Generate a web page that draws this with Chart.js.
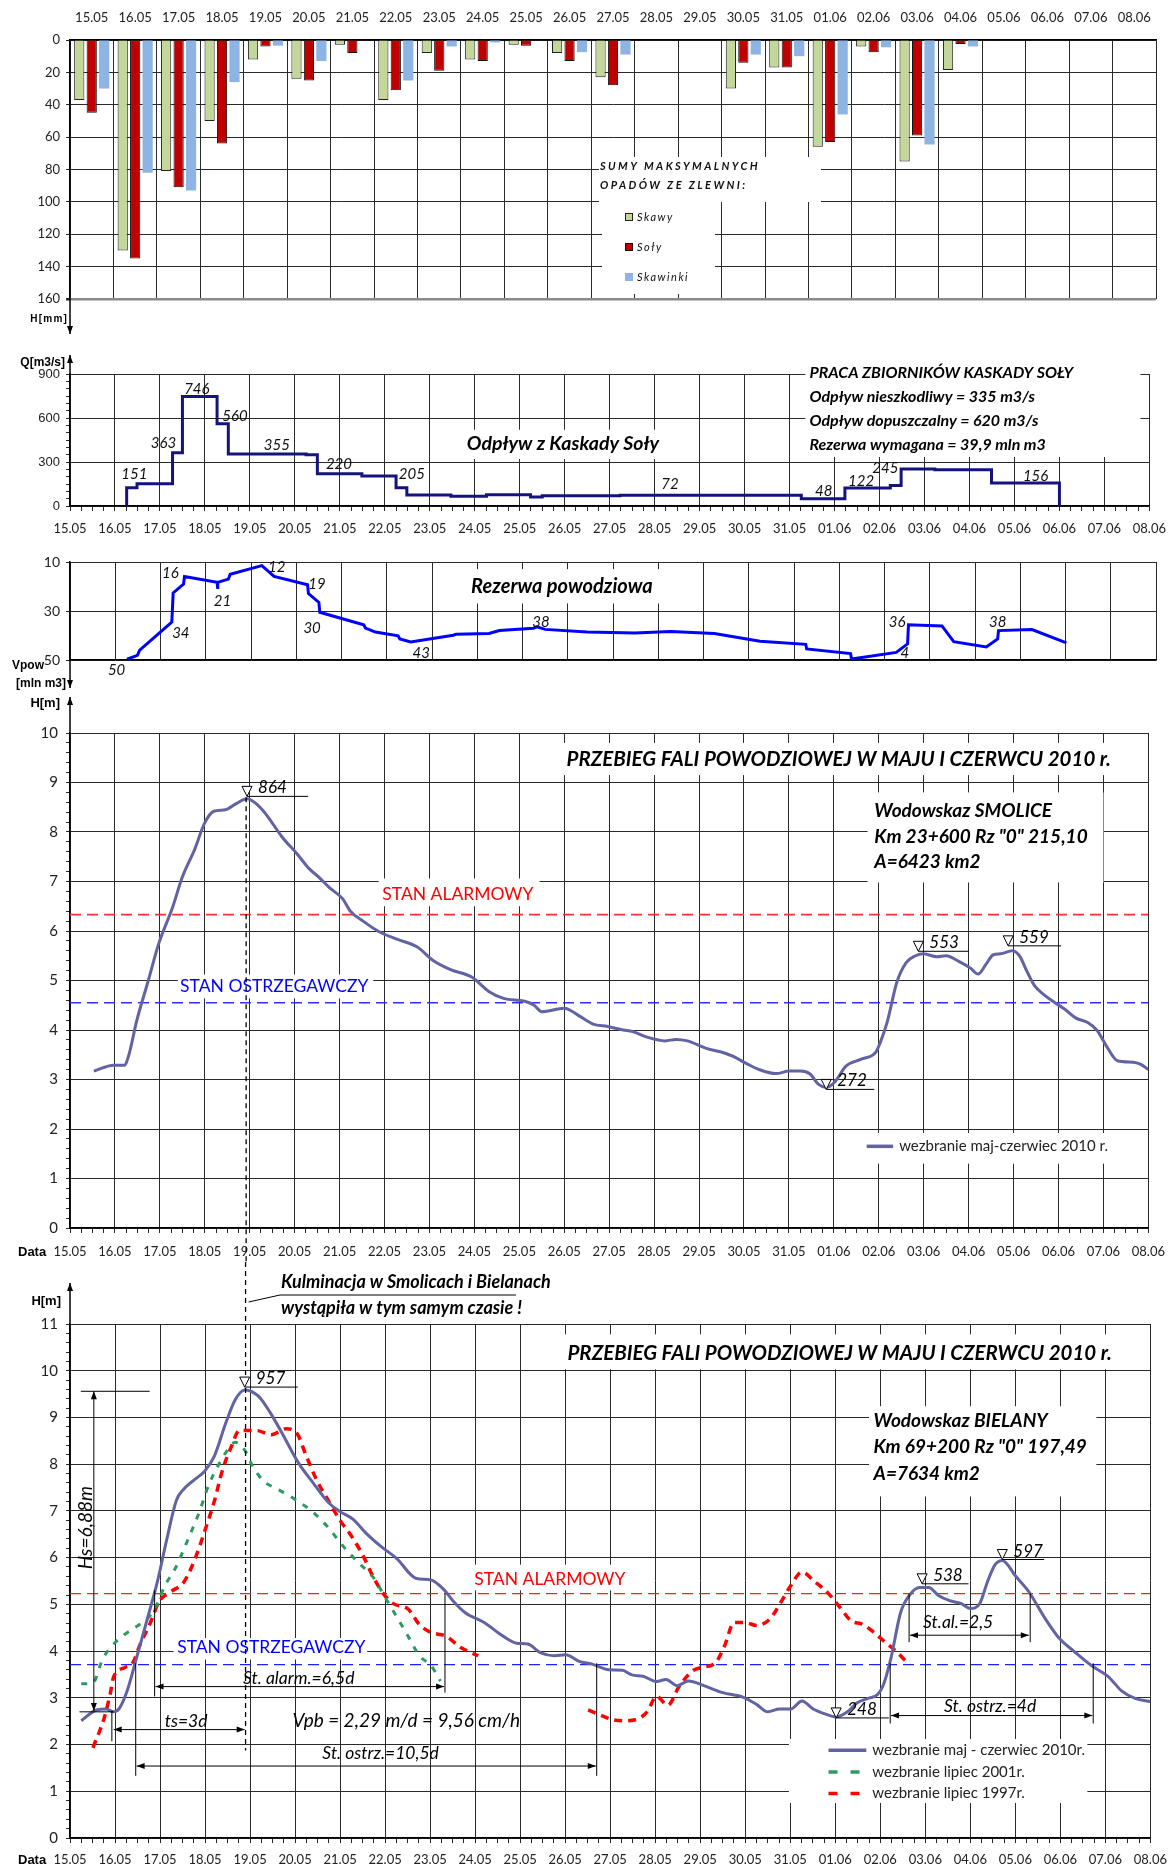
<!DOCTYPE html>
<html>
<head>
<meta charset="utf-8">
<script src="https://cdn.jsdelivr.net/npm/chart.js@4.4.1/dist/chart.umd.min.js"></script>
<style>
  html, body { margin: 0; padding: 0; background: #fff; }
  body { width: 1176px; height: 1869px; position: relative; overflow: hidden; }
  canvas { position: absolute; left: 0; }
</style>
</head>
<body>
<canvas id="rainChart" width="1176" height="335" style="top:0px"></canvas>
<canvas id="flowChart" width="1176" height="210" style="top:335px"></canvas>
<canvas id="reserveChart" width="1176" height="147" style="top:545px"></canvas>
<canvas id="smoliceChart" width="1176" height="570" style="top:692px"></canvas>
<canvas id="bielanyChart" width="1176" height="607" style="top:1262px"></canvas>
<script>
// Data
const days = ['15.05','16.05','17.05','18.05','19.05','20.05','21.05','22.05','23.05','24.05','25.05','26.05','27.05',
              '28.05','29.05','30.05','31.05','01.06','02.06','03.06','04.06','05.06','06.06','07.06','08.06'];

// daily rainfall sums [mm]
const rainSkawa    = [37, 130, 81, 50, 12, 24, 3, 37, 8, 12, 3, 8, 23, 0, 0, 30, 17, 66, 4, 75, 18.5, 0, 0, 0, 0];
const rainSola     = [45, 135, 91, 64, 4, 25, 8, 31, 19, 13, 3.5, 13, 28, 0, 0, 14, 17, 63, 7.5, 59, 2.5, 0, 0, 0, 0];
const rainSkawinka = [30, 82, 93, 26, 3.5, 13, 0, 25, 4, 1.5, 0, 7.5, 9, 0, 0, 9, 10, 46, 4.5, 64.5, 4, 0, 0, 0, 0];

// outflow from Sola cascade [m3/s], day offset from 15.05 where the step starts
const flowDay = [1.26, 1.26, 1.49, 2.28, 2.50, 3.27, 3.52, 5.25, 5.50, 6.49, 7.25, 7.49, 8.47, 9.26, 10.24, 10.50,
                 12.23, 16.26, 17.23, 18.24, 18.48, 19.23, 20.49, 22.00];
const flowQ   = [0, 124, 151, 363, 746, 560, 355, 350, 220, 205, 124, 75, 67, 76, 62, 70,
                 74, 50, 122, 139, 252, 248, 156, 0];
const flowNotes = [[1.43, 215, '151'], [2.08, 430, '363'], [2.82, 800, '746'], [3.67, 610, '560'], [4.6, 415, '355'],
                   [5.98, 285, '220'], [7.6, 215, '205'], [13.34, 150, '72'], [16.76, 99, '48'], [17.59, 168, '122'],
                   [18.13, 255, '245'], [21.47, 206, '156']];

// flood reserve [mln m3]
const resDay = [1.26, 1.49, 1.54, 2.25, 2.28, 2.51, 2.53, 3.25, 3.26, 3.27, 3.50, 3.54, 4.24, 4.51, 5.25, 5.27, 5.50, 5.52,
                6.49, 6.53, 6.75, 7.25, 7.29, 7.53, 8.47, 8.53, 9.26, 9.49, 10.24, 10.32, 10.50, 11.43, 12.48, 13.28,
                14.24, 15.25, 16.26, 16.28, 17.25, 17.27, 18.26, 18.51, 18.53, 19.27, 19.53, 20.25, 20.50, 20.52, 21.26, 22.02];
const resVol = [49.7, 48.1, 46, 34.5, 22.6, 19, 15.9, 18.3, 21, 18.3, 17, 15, 11.5, 15.9, 19.3, 22.9, 26.5, 30.5,
                35.6, 37, 38.6, 40.1, 41.4, 42.6, 39.9, 39.5, 39.2, 38, 37, 36.5, 37.5, 38.6, 39, 38.4,
                39.2, 42.3, 43.6, 45.5, 47.4, 49.6, 46.9, 43.4, 35.6, 36.1, 42.5, 44.7, 41.4, 38, 37.6, 43];
const resNotes = [[2.22, 14.5, '16'], [2.45, 39, '34'], [3.37, 25.8, '21'], [4.57, 12, '12'], [5.46, 19, '19'],
                  [5.35, 36.9, '30'], [7.76, 47.2, '43'], [10.41, 34.6, '38'], [1.03, 54.2, '50'], [18.28, 34.6, '36'],
                  [18.45, 47.3, '4'], [20.5, 34.6, '38']];

// water level SMOLICE [m]
const smolDay = [0.53, 0.97, 1.21, 1.32, 1.48, 1.73, 1.98, 2.28, 2.50, 2.78,
                 2.99, 3.20, 3.46, 3.71, 3.94, 4.26, 4.51, 4.72, 5.06, 5.31,
                 5.56, 5.78, 6.07, 6.24, 6.54, 6.87, 7.29, 7.72, 8.09, 8.47,
                 8.94, 9.32, 9.65, 10.12, 10.33, 10.50, 11.00, 11.34, 11.64, 11.97,
                 12.31, 12.52, 12.86, 13.24, 13.49, 13.74, 14.16, 14.58, 14.75, 15.08,
                 15.34, 15.71, 16.01, 16.26, 16.47, 16.66, 16.83, 17.02, 17.27, 17.61,
                 17.94, 18.03, 18.19, 18.40, 18.61, 18.82, 18.99, 19.29, 19.50, 19.79,
                 20.04, 20.21, 20.38, 20.55, 20.71, 20.97, 21.13, 21.30, 21.47, 21.68,
                 21.89, 22.14, 22.39, 22.65, 22.86, 23.07, 23.31, 23.66, 23.82, 24.00];
const smolH = [3.17, 3.29, 3.29, 3.53, 4.17, 4.96, 5.76, 6.47, 7.09, 7.66,
               8.17, 8.42, 8.45, 8.58, 8.67, 8.47, 8.17, 7.90, 7.55, 7.27,
               7.07, 6.87, 6.65, 6.40, 6.19, 5.99, 5.83, 5.68, 5.40, 5.22,
               5.07, 4.78, 4.64, 4.58, 4.50, 4.37, 4.44, 4.28, 4.12, 4.07,
               4.00, 3.97, 3.85, 3.78, 3.81, 3.78, 3.63, 3.53, 3.47, 3.31,
               3.20, 3.12, 3.17, 3.17, 3.11, 2.90, 2.84, 2.95, 3.27, 3.41,
               3.56, 3.74, 4.17, 4.96, 5.36, 5.50, 5.54, 5.48, 5.50, 5.38,
               5.25, 5.13, 5.32, 5.52, 5.54, 5.60, 5.50, 5.18, 4.89, 4.71,
               4.57, 4.42, 4.24, 4.15, 3.99, 3.67, 3.38, 3.35, 3.31, 3.20];
const smolAlarm = 6.33;
const smolWarn = 4.55;
const smolPeaks = [{x: 3.94, y: 8.72, x2: 5.3, text: '864'}, {x: 18.88, y: 5.59, x2: 20.0, text: '553'},
                   {x: 20.88, y: 5.7, x2: 22.06, text: '559'}, {x: 16.83, y: 2.8, x2: 17.9, text: '272'}];

// water level BIELANY [m]
const bielDay = [0.25, 0.59, 0.80, 0.97, 1.10, 1.27, 1.48, 1.73, 1.94, 2.15,
                 2.36, 2.53, 2.78, 2.99, 3.21, 3.46, 3.67, 3.88, 4.18, 4.43,
                 4.73, 5.06, 5.40, 5.74, 5.99, 6.29, 6.58, 6.92, 7.26, 7.68,
                 8.02, 8.31, 8.52, 8.78, 9.20, 9.62, 9.92, 10.17, 10.46, 10.76,
                 11.01, 11.31, 11.60, 11.97, 12.27, 12.48, 12.73, 13.03, 13.24, 13.49,
                 13.74, 14.08, 14.50, 14.96, 15.25, 15.50, 15.76, 16.01, 16.26, 16.51,
                 16.76, 17.02, 17.27, 17.48, 17.73, 17.94, 18.07, 18.24, 18.45, 18.66,
                 18.87, 19.08, 19.29, 19.54, 19.79, 20.00, 20.21, 20.38, 20.55, 20.71,
                 21.01, 21.30, 21.64, 21.97, 22.31, 22.69, 23.07, 23.36, 23.66, 24.00];
const bielH = [2.51, 2.74, 2.76, 2.70, 2.78, 3.15, 3.86, 4.73, 5.48, 6.39,
               7.22, 7.47, 7.68, 7.85, 8.18, 8.88, 9.38, 9.59, 9.46, 9.13,
               8.63, 8.05, 7.60, 7.18, 6.99, 6.82, 6.52, 6.23, 5.98, 5.56,
               5.52, 5.31, 5.06, 4.82, 4.61, 4.32, 4.17, 4.15, 3.96, 3.90,
               3.92, 3.78, 3.72, 3.60, 3.59, 3.49, 3.46, 3.35, 3.39, 3.26,
               3.36, 3.26, 3.11, 3.01, 2.86, 2.70, 2.76, 2.76, 2.93, 2.76,
               2.66, 2.59, 2.70, 2.89, 2.99, 3.07, 3.28, 3.86, 4.82, 5.21,
               5.36, 5.36, 5.19, 5.08, 5.02, 4.91, 5.02, 5.48, 5.85, 5.94,
               5.60, 5.27, 4.73, 4.28, 3.99, 3.69, 3.45, 3.15, 2.99, 2.92];
// flood of July 2001
const day2001 = [0.25, 0.51, 0.72, 0.93, 1.22, 1.60, 1.86, 2.11, 2.36, 2.62, 2.87, 3.08, 3.29, 3.50, 3.67, 3.88,
                 4.05, 4.30, 4.60, 4.98, 5.40, 5.74, 6.08, 6.41, 6.75, 7.00, 7.26, 7.51, 7.76, 8.02, 8.23];
const h2001   = [3.30, 3.32, 3.82, 4.11, 4.36, 4.61, 4.86, 5.40, 5.81, 6.39, 6.97, 7.55, 7.97, 8.30, 8.47, 8.30,
                 7.97, 7.64, 7.47, 7.26, 6.97, 6.64, 6.23, 5.89, 5.56, 5.15, 4.73, 4.32, 3.90, 3.69, 3.36];
// flood of July 1997 (null = break in the record)
const day1997 = [0.51, 0.76, 0.89, 0.97, 1.22, 1.39, 1.56, 1.77, 1.98, 2.24, 2.53, 2.78, 2.99, 3.21, 3.38, 3.59, 3.76,
                 4.14, 4.47, 4.81, 5.06, 5.23, 5.49, 5.74, 5.99, 6.24, 6.50, 6.75, 6.96, 7.17, 7.51, 7.76, 8.02, 8.35,
                 8.69, 9.07, 10.30,
                 11.51, 11.81, 12.06, 12.31, 12.56, 12.82, 13.03, 13.28, 13.53, 13.82, 14.03, 14.33, 14.54, 14.75,
                 15.00, 15.25, 15.55, 15.80, 16.01, 16.26, 16.55, 16.85, 17.10, 17.35, 17.61, 17.86, 18.11, 18.36, 18.61];
const h1997   = [1.93, 2.57, 3.07, 3.45, 3.65, 3.74, 4.15, 4.57, 5.06, 5.27, 5.48, 5.98, 6.56, 7.22, 7.85, 8.39, 8.72,
                 8.72, 8.63, 8.76, 8.63, 8.22, 7.64, 7.22, 6.81, 6.48, 6.06, 5.56, 5.23, 5.02, 4.90, 4.57, 4.40, 4.32,
                 4.07, 3.90, null,
                 2.74, 2.62, 2.53, 2.51, 2.53, 2.70, 3.03, 2.84, 3.24, 3.57, 3.65, 3.74, 4.11, 4.61,
                 4.61, 4.55, 4.69, 5.06, 5.40, 5.69, 5.48, 5.23, 4.94, 4.65, 4.57, 4.40, 4.19, 3.99, 3.74];
const bielAlarm = 5.23;
const bielWarn = 3.71;
const bielPeaks = [{x: 3.88, y: 9.65, x2: 5.06, text: '957'}, {x: 18.93, y: 5.44, x2: 19.96, text: '538'},
                   {x: 20.71, y: 5.96, x2: 21.64, text: '597'}, {x: 17.02, y: 2.57, x2: 18.19, text: '248'}];

const F = 'Lato, "Open Sans", sans-serif';
const A = '"Liberation Sans", Arial, sans-serif';
const GRID = '#2a2a2a';
const C2010 = '#6163A3';
const TITLE = 'PRZEBIEG FALI POWODZIOWEJ W MAJU I CZERWCU 2010 r.';

Chart.defaults.font.family = F;
Chart.defaults.color = '#222';

const pts = (xs, ys) => xs.map((x, i) => ({x: x, y: ys[i]}));
const isWhole = v => Math.abs(v - Math.round(v)) < 1e-6;
const dayTick = v => isWhole(v) ? days[Math.round(v)] : '';

// Drawing helpers
function px(c, x, y) {
    return [c.scales.x.getPixelForValue(x), c.scales.y.getPixelForValue(y)];
}

function write(ctx, s, x, y, font, color, align, base, spacing) {
    ctx.save();
    ctx.font = font;
    ctx.fillStyle = color || '#000';
    ctx.textAlign = align || 'left';
    ctx.textBaseline = base || 'middle';
    if (spacing) ctx.letterSpacing = spacing;
    ctx.fillText(s, x, y);
    ctx.restore();
}

function put(c, s, x, y, font, color, align) {
    const [X, Y] = px(c, x, y);
    write(c.ctx, s, X, Y, font, color, align);
}

function blank(c, x0, y0, x1, y1) {
    const [a, b] = px(c, x0, y0);
    const [d, e] = px(c, x1, y1);
    c.ctx.save();
    c.ctx.fillStyle = '#fff';
    c.ctx.fillRect(Math.min(a, d), Math.min(b, e), Math.abs(d - a), Math.abs(e - b));
    c.ctx.restore();
}

function line(ctx, x0, y0, x1, y1, w, color, dash) {
    ctx.save();
    ctx.beginPath();
    ctx.strokeStyle = color || '#000';
    ctx.lineWidth = w || 1;
    ctx.setLineDash(dash || []);
    ctx.moveTo(x0, y0);
    ctx.lineTo(x1, y1);
    ctx.stroke();
    ctx.restore();
}

function head(ctx, x, y, ang) {
    ctx.save();
    ctx.translate(x, y);
    ctx.rotate(ang);
    ctx.beginPath();
    ctx.moveTo(0, 0);
    ctx.lineTo(-8, -3);
    ctx.lineTo(-8, 3);
    ctx.closePath();
    ctx.fillStyle = '#000';
    ctx.fill();
    ctx.restore();
}

function dataLine(c, x0, y0, x1, y1, w, color, dash) {
    const [a, b] = px(c, x0, y0);
    const [d, e] = px(c, x1, y1);
    line(c.ctx, a, b, d, e, w, color, dash);
}

function dimH(c, x0, x1, y) {
    const [a, yy] = px(c, x0, y);
    const [b] = px(c, x1, y);
    line(c.ctx, a, yy, b, yy, 1);
    head(c.ctx, a, yy, Math.PI);
    head(c.ctx, b, yy, 0);
}

function peakMark(c, m) {
    const ctx = c.ctx;
    const [x, y] = px(c, m.x, m.y);
    const [x2] = px(c, m.x2, m.y);
    line(ctx, x, y, x2, y, 1);
    ctx.save();
    ctx.beginPath();
    ctx.moveTo(x - 5, y - 10);
    ctx.lineTo(x + 5, y - 10);
    ctx.lineTo(x, y);
    ctx.closePath();
    ctx.fillStyle = '#fff';
    ctx.fill();
    ctx.strokeStyle = '#000';
    ctx.lineWidth = 1;
    ctx.stroke();
    ctx.restore();
    write(ctx, m.text, x + 11, y - 3, 'italic 17px ' + F, '#000', 'left', 'alphabetic');
}

function axisArrow(ctx, x, yFrom, yTo) {
    line(ctx, x, yFrom, x, yTo, 1.5);
    head(ctx, x, yTo, yTo < yFrom ? -Math.PI / 2 : Math.PI / 2);
}

function legendRow(c, xa, xb, y, label, color, dash) {
    const [a, yy] = px(c, xa, y);
    const [b] = px(c, xb, y);
    line(c.ctx, a, yy, b, yy, 3.5, color, dash);
    write(c.ctx, label, b + 6, yy, '15px ' + F, '#222');
}

// Shared axis settings for the day axis of the line panels
function dayAxis(height, pad, showLabels) {
    return {
        type: 'linear', min: 0, max: 24,
        afterFit: s => { s.height = height; },
        ticks: {
            display: showLabels, stepSize: 0.25, autoSkip: false, maxRotation: 0, maxTicksLimit: 1000,
            callback: dayTick, font: {family: F, size: 13}, color: '#222', padding: pad
        },
        grid: {
            color: ctx => isWhole(ctx.tick.value) ? GRID : 'transparent',
            tickColor: GRID, tickLength: 5, drawTicks: showLabels
        },
        border: {color: '#000', width: 1.5}
    };
}

function levelAxis(max, font) {
    return {
        min: 0, max: max,
        afterFit: s => { s.width = 70; },
        ticks: {
            stepSize: 0.2, autoSkip: false, maxTicksLimit: 1000,
            callback: v => isWhole(v) ? Math.round(v) : '',
            font: {family: F, size: font}, color: '#222', padding: 8
        },
        grid: { color: ctx => isWhole(ctx.tick.value) ? GRID : 'transparent', tickColor: GRID, tickLength: 4 },
        border: {color: '#000', width: 1.5}
    };
}

const baseOpts = {
    responsive: false, animation: false, events: [],
    plugins: { legend: {display: false}, tooltip: {enabled: false} },
    elements: { point: {radius: 0} }
};

// Rainfall chart
function renderRain() {
    const deco = {
        id: 'rainDeco',
        afterDatasetsDraw(c) {
            const ctx = c.ctx;
            ctx.save();
            ctx.fillStyle = '#fff';
            ctx.fillRect(599, 157, 222, 45);
            ctx.fillRect(602, 202, 113, 92);
            ctx.restore();
            const tf = 'italic bold 11px ' + F;
            write(ctx, 'SUMY MAKSYMALNYCH', 600, 166, tf, '#111', 'left', 'middle', '2.4px');
            write(ctx, 'OPADÓW ZE ZLEWNI:', 600, 185, tf, '#111', 'left', 'middle', '2.4px');
            const names = ['Skawy', 'Soły', 'Skawinki'];
            c.data.datasets.forEach((ds, i) => {
                const y = 217 + i * 30;
                ctx.save();
                ctx.fillStyle = ds.backgroundColor;
                ctx.fillRect(625, y - 4, 8, 8);
                if (ds.borderWidth) {
                    ctx.strokeStyle = ds.borderColor;
                    ctx.lineWidth = 1;
                    ctx.strokeRect(625.5, y - 3.5, 7, 7);
                }
                ctx.restore();
                write(ctx, names[i], 637, y, 'italic 11px ' + F, '#111', 'left', 'middle', '1.5px');
            });
        },
        afterDraw(c) {
            const ctx = c.ctx;
            const x = c.chartArea.left;
            axisArrow(ctx, x, c.chartArea.bottom, 334);
            write(ctx, 'H[mm]', x - 2, 319, 'bold 10px ' + A, '#000', 'right', 'middle', '1.2px');
        }
    };

    new Chart(document.getElementById('rainChart'), {
        type: 'bar',
        data: {
            labels: days,
            datasets: [
                { data: rainSkawa, backgroundColor: '#C4D79B', borderColor: '#222', borderWidth: 1 },
                { data: rainSola, backgroundColor: '#C00000', borderColor: '#111', borderWidth: 1 },
                { data: rainSkawinka, backgroundColor: '#8DB4E2', borderWidth: 0 }
            ]
        },
        options: {
            ...baseOpts,
            layout: { padding: {left: 0, right: 20, top: 0, bottom: 36} },
            datasets: { bar: { categoryPercentage: 0.86, barPercentage: 0.82 } },
            scales: {
                x: {
                    position: 'top',
                    afterFit: s => { s.height = 40; },
                    ticks: { autoSkip: false, maxRotation: 0, font: {family: F, size: 13}, color: '#222', padding: 14 },
                    grid: { color: GRID, drawTicks: false, offset: true },
                    border: {color: '#000', width: 1.5}
                },
                y: {
                    reverse: true, min: 0, max: 160,
                    afterFit: s => { s.width = 70; },
                    ticks: { stepSize: 20, font: {family: F, size: 13}, color: '#222', padding: 6 },
                    grid: {
                        color: ctx => ctx.tick.value === 160 ? '#8a8a8a' : GRID,
                        lineWidth: ctx => ctx.tick.value === 160 ? 2.5 : 1,
                        tickColor: GRID, tickLength: 4
                    },
                    border: {color: '#000', width: 1.5}
                }
            }
        },
        plugins: [deco]
    });
}

// Outflow chart
function renderFlow() {
    const deco = {
        id: 'flowDeco',
        beforeDatasetsDraw(c) {
            blank(c, 8.75, 520, 13.16, 320);
            blank(c, 16.35, 985, 23.8, 334);
            put(c, 'Odpływ z Kaskady Soły', 10.96, 423, 'italic bold 19.5px ' + F, '#000', 'center');
            const bf = 'italic bold 16px ' + F;
            put(c, 'PRACA ZBIORNIKÓW KASKADY SOŁY', 16.44, 907, bf);
            put(c, 'Odpływ nieszkodliwy = 335 m3/s', 16.44, 743, bf);
            put(c, 'Odpływ dopuszczalny = 620 m3/s', 16.44, 580, bf);
            put(c, 'Rezerwa wymagana = 39,9 mln m3', 16.44, 416, bf);
        },
        afterDatasetsDraw(c) {
            flowNotes.forEach(n => put(c, n[2], n[0], n[1], 'italic 15px ' + F, '#111', 'center'));
        },
        afterDraw(c) {
            const x = c.chartArea.left;
            axisArrow(c.ctx, x, c.chartArea.top, 20);
            write(c.ctx, 'Q[m3/s]', x - 5, 28, 'bold 12px ' + A, '#000', 'right');
        }
    };

    new Chart(document.getElementById('flowChart'), {
        type: 'line',
        data: {
            datasets: [{
                data: pts(flowDay, flowQ), borderColor: '#14147C', borderWidth: 3, stepped: 'before', fill: false
            }]
        },
        options: {
            ...baseOpts,
            layout: { padding: {left: 0, right: 20, top: 39, bottom: 0} },
            scales: {
                x: dayAxis(39, 10, true),
                y: {
                    min: 0, max: 900,
                    afterFit: s => { s.width = 70; },
                    ticks: {
                        stepSize: 50, autoSkip: false, maxTicksLimit: 1000,
                        callback: v => v % 300 === 0 ? v : '',
                        font: {family: A, size: 13}, color: '#222', padding: 6
                    },
                    grid: { color: ctx => ctx.tick.value % 300 === 0 ? GRID : 'transparent', tickColor: GRID, tickLength: 4 },
                    border: {color: '#000', width: 1.5}
                }
            }
        },
        plugins: [deco]
    });
}

// Flood reserve chart
function renderReserve() {
    const deco = {
        id: 'reserveDeco',
        beforeDatasetsDraw(c) {
            blank(c, 8.6, 12.9, 13.2, 26.9);
            put(c, 'Rezerwa powodziowa', 10.87, 20.2, 'italic bold 20px ' + F, '#000', 'center');
        },
        afterDatasetsDraw(c) {
            resNotes.forEach(n => put(c, n[2], n[0], n[1], 'italic 15px ' + F, '#111', 'center'));
        },
        afterDraw(c) {
            const x = c.chartArea.left;
            axisArrow(c.ctx, x, c.chartArea.bottom, 143);
            write(c.ctx, 'Vpow', 44, 121, 'bold 12px ' + A, '#000', 'right');
            write(c.ctx, '[mln m3]', 66, 139, 'bold 12px ' + A, '#000', 'right');
        }
    };

    new Chart(document.getElementById('reserveChart'), {
        type: 'line',
        data: {
            datasets: [{ data: pts(resDay, resVol), borderColor: '#0000FF', borderWidth: 3, fill: false }]
        },
        options: {
            ...baseOpts,
            layout: { padding: {left: 0, right: 20, top: 17, bottom: 0} },
            scales: {
                x: dayAxis(32, 0, false),
                y: {
                    reverse: true, min: 10, max: 50,
                    afterFit: s => { s.width = 70; },
                    ticks: { stepSize: 20, font: {family: F, size: 14}, color: '#222', padding: 6 },
                    grid: { color: GRID, tickColor: GRID, tickLength: 4 },
                    border: {color: '#000', width: 1.5}
                }
            }
        },
        plugins: [deco]
    });
}

// Smolice water level chart
function renderSmolice() {
    const deco = {
        id: 'smoliceDeco',
        beforeDatasetsDraw(c) {
            blank(c, 10.95, 9.8, 23.2, 9.15);
            blank(c, 17.75, 8.8, 23.0, 6.98);
            blank(c, 6.87, 7.06, 10.45, 6.5);
            blank(c, 2.4, 5.12, 6.75, 4.64);
            blank(c, 17.6, 1.92, 23.5, 1.3);
            put(c, TITLE, 11.05, 9.46, 'italic bold 20.5px ' + F);
            const bf = 'italic bold 19px ' + F;
            put(c, 'Wodowskaz SMOLICE', 17.9, 8.43, bf);
            put(c, 'Km 23+600 Rz "0" 215,10', 17.9, 7.91, bf);
            put(c, 'A=6423 km2', 17.9, 7.39, bf);
            put(c, 'STAN ALARMOWY', 6.95, 6.75, '17.5px ' + F, '#FF0000');
            put(c, 'STAN OSTRZEGAWCZY', 2.45, 4.88, '17.5px ' + F, '#0000FF');
            legendRow(c, 17.73, 18.32, 1.65, 'wezbranie maj-czerwiec 2010 r.', C2010);
        },
        afterDatasetsDraw(c) {
            const [x, y] = px(c, 3.92, 8.7);
            line(c.ctx, x, y, x, c.height, 1.3, '#000', [5, 4]);
            smolPeaks.forEach(m => peakMark(c, m));
        },
        afterDraw(c) {
            const x = c.chartArea.left;
            axisArrow(c.ctx, x, c.chartArea.top, 5);
            write(c.ctx, 'H[m]', 60, 11, 'bold 13px ' + A, '#000', 'right');
            write(c.ctx, 'Data', 18, c.chartArea.bottom + 24, 'bold 13px ' + A, '#000', 'left');
        }
    };

    new Chart(document.getElementById('smoliceChart'), {
        type: 'line',
        data: {
            datasets: [
                { data: pts(smolDay, smolH), borderColor: C2010, borderWidth: 3, cubicInterpolationMode: 'monotone' },
                { data: [{x: 0, y: smolAlarm}, {x: 24, y: smolAlarm}], borderColor: '#FF3030', borderWidth: 1.6, borderDash: [11, 6] },
                { data: [{x: 0, y: smolWarn}, {x: 24, y: smolWarn}], borderColor: '#3030FF', borderWidth: 1.6, borderDash: [11, 6] }
            ]
        },
        options: {
            ...baseOpts,
            layout: { padding: {left: 0, right: 20, top: 41, bottom: 0} },
            scales: { x: dayAxis(34, 11, true), y: levelAxis(10, 15) }
        },
        plugins: [deco]
    });
}

// Bielany water level chart
function renderBielany() {
    const deco = {
        id: 'bielanyDeco',
        beforeDatasetsDraw(c) {
            blank(c, 10.95, 10.78, 23.2, 10.03);
            blank(c, 17.75, 9.24, 22.8, 7.31);
            blank(c, 8.9, 5.85, 12.5, 5.3);
            blank(c, 2.3, 4.28, 6.6, 3.82);
            blank(c, 15.97, 2.12, 22.6, 0.75);
            put(c, TITLE, 11.05, 10.38, 'italic bold 20.5px ' + F);
            const bf = 'italic bold 19px ' + F;
            put(c, 'Wodowskaz BIELANY', 17.85, 8.92, bf);
            put(c, 'Km 69+200 Rz "0" 197,49', 17.85, 8.36, bf);
            put(c, 'A=7634 km2', 17.85, 7.8, bf);
            put(c, 'STAN ALARMOWY', 8.98, 5.54, '17.5px ' + F, '#FF0000');
            put(c, 'STAN OSTRZEGAWCZY', 2.38, 4.07, '17.5px ' + F, '#0000FF');
            legendRow(c, 16.85, 17.69, 1.88, 'wezbranie maj - czerwiec 2010r.', C2010);
            legendRow(c, 16.85, 17.69, 1.41, 'wezbranie lipiec 2001r.', '#2E9960', [9, 13]);
            legendRow(c, 16.85, 17.69, 0.95, 'wezbranie lipiec 1997r.', '#FF0000', [9, 13]);
        },
        afterDatasetsDraw(c) {
            const ctx = c.ctx;
            const [x, y] = px(c, 3.9, 1.87);
            line(ctx, x, 0, x, y, 1.3, '#000', [5, 4]);
            bielPeaks.forEach(m => peakMark(c, m));

            // rise height
            dataLine(c, 0.24, 9.56, 1.77, 9.56, 1);
            dataLine(c, 0.21, 2.7, 0.97, 2.7, 1);
            const [hx, hy0] = px(c, 0.53, 9.56);
            const [, hy1] = px(c, 0.53, 2.72);
            line(ctx, hx, hy0, hx, hy1, 1);
            head(ctx, hx, hy0, -Math.PI / 2);
            head(ctx, hx, hy1, Math.PI / 2);
            const [tx, ty] = px(c, 0.36, 6.64);
            ctx.save();
            ctx.translate(tx, ty);
            ctx.rotate(-Math.PI / 2);
            write(ctx, 'Hs=6,88m', 0, 0, 'italic 19px ' + F, '#000', 'center');
            ctx.restore();

            const itf = 'italic 17.5px ' + F;
            // time to peak
            dataLine(c, 0.93, 2.72, 0.93, 2.07, 1);
            dimH(c, 0.97, 3.88, 2.32);
            put(c, 'ts=3d', 2.58, 2.5, itf, '#000', 'center');
            // above alarm level
            dataLine(c, 1.88, 5.3, 1.88, 3.03, 1);
            dataLine(c, 8.33, 5.23, 8.33, 3.11, 1);
            dimH(c, 1.9, 8.31, 3.24);
            put(c, 'St. alarm.=6,5d', 5.08, 3.42, itf, '#000', 'center');
            put(c, 'Vpb = 2,29 m/d = 9,56 cm/h', 7.47, 2.5, 'italic 19px ' + F, '#000', 'center');
            // above warning level
            dataLine(c, 1.46, 3.74, 1.46, 1.33, 1);
            dataLine(c, 11.7, 3.74, 11.7, 1.33, 1);
            dimH(c, 1.48, 11.68, 1.54);
            put(c, 'St. ostrz.=10,5d', 6.9, 1.81, itf, '#000', 'center');
            // second wave
            dataLine(c, 18.64, 5.23, 18.64, 4.19, 1);
            dataLine(c, 21.33, 5.23, 21.33, 4.19, 1);
            dimH(c, 18.66, 21.3, 4.34);
            put(c, 'St.al.=2,5', 19.73, 4.61, itf, '#000', 'center');
            dataLine(c, 18.22, 3.74, 18.22, 2.45, 1);
            dataLine(c, 22.73, 3.74, 22.73, 2.45, 1);
            dimH(c, 18.24, 22.71, 2.62);
            put(c, 'St. ostrz.=4d', 20.44, 2.81, itf, '#000', 'center');
        },
        afterDraw(c) {
            const ctx = c.ctx;
            const x = c.chartArea.left;
            axisArrow(ctx, x, c.chartArea.top, 21);
            write(ctx, 'H[m]', 61, 39, 'bold 13px ' + A, '#000', 'right');
            write(ctx, 'Data', 18, c.chartArea.bottom + 22, 'bold 13px ' + A, '#000', 'left');
            const kf = 'italic bold 18px ' + F;
            const [kx] = px(c, 3.9, 0);
            write(ctx, 'Kulminacja w Smolicach i Bielanach', 281, 20, kf);
            write(ctx, 'wystąpiła w tym samym czasie !', 281, 46, kf);
            line(ctx, 280, 33, 516, 33, 1);
            line(ctx, kx + 3, 40, 280, 33, 1);
        }
    };

    new Chart(document.getElementById('bielanyChart'), {
        type: 'line',
        data: {
            datasets: [
                { data: pts(bielDay, bielH), borderColor: C2010, borderWidth: 3, cubicInterpolationMode: 'monotone' },
                { data: pts(day2001, h2001), borderColor: '#2E9960', borderWidth: 3, borderDash: [6, 8], cubicInterpolationMode: 'monotone' },
                { data: pts(day1997, h1997), borderColor: '#FF0000', borderWidth: 3.5, borderDash: [8, 6], cubicInterpolationMode: 'monotone', spanGaps: false },
                { data: [{x: 0, y: bielAlarm}, {x: 24, y: bielAlarm}], borderColor: '#FF2020', borderWidth: 1.4, borderDash: [11, 6] },
                { data: [{x: 0, y: bielWarn}, {x: 24, y: bielWarn}], borderColor: '#2020FF', borderWidth: 1.1, borderDash: [11, 6] }
            ]
        },
        options: {
            ...baseOpts,
            layout: { padding: {left: 0, right: 20, top: 62, bottom: 0} },
            scales: { x: dayAxis(31, 9, true), y: levelAxis(11, 15) }
        },
        plugins: [deco]
    });
}

renderRain();
renderFlow();
renderReserve();
renderSmolice();
renderBielany();
</script>
</body>
</html>
